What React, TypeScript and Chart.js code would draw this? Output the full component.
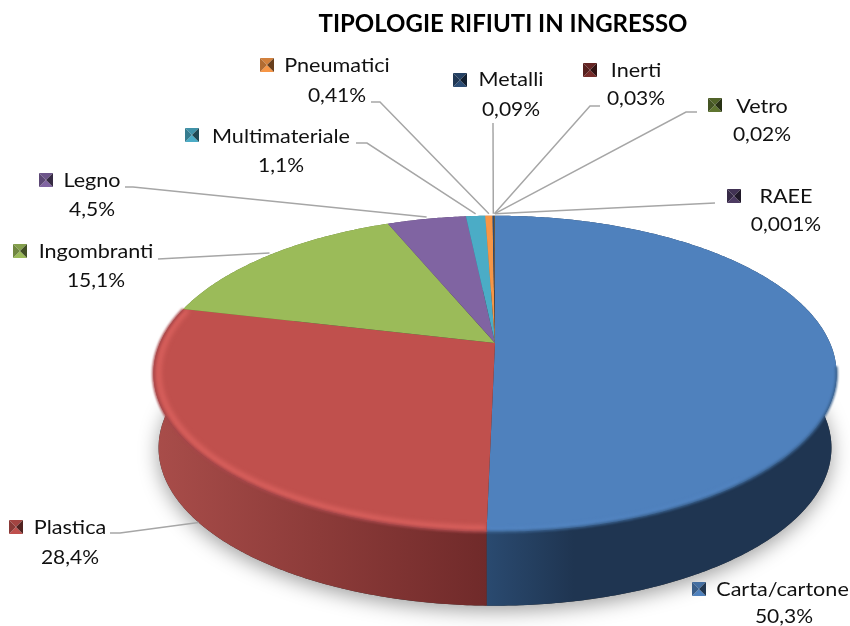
import React, { useEffect, useRef } from "react";
import { Chart, registerables } from "chart.js";

Chart.register(...registerables);

const categories = ["Carta/cartone", "Plastica", "Ingombranti", "Legno", "Multimateriale", "Pneumatici", "Metalli", "Inerti", "Vetro", "RAEE"];
const values = [50.3, 28.4, 15.1, 4.5, 1.1, 0.41, 0.09, 0.03, 0.02, 0.001];
const valueLabels = ["50,3%", "28,4%", "15,1%", "4,5%", "1,1%", "0,41%", "0,09%", "0,03%", "0,02%", "0,001%"];
const colors = ["#4f81bd", "#c0504d", "#9bbb59", "#8064a2", "#4bacc6", "#f79646", "#2c4d75", "#772c2a", "#5f7530", "#4d3b62"];
const title = "TIPOLOGIE RIFIUTI IN INGRESSO";

// label layout: [name centre x, name baseline, value centre x, value baseline, swatch x, swatch y]
const labelLayout = [
  [782.5, 596, 784, 623, 692, 582],
  [70, 534, 70, 564, 9, 520],
  [96, 258, 96, 287, 13, 244],
  [92, 187, 92, 216, 39, 173],
  [281, 143, 281, 172, 185, 128],
  [337, 72, 337, 102, 260, 58],
  [511, 86, 511, 116, 453, 73],
  [636, 77, 636, 105, 583, 63],
  [762, 113, 762, 141, 708, 98],
  [786, 203, 786, 231, 727, 189],
];
// leader start polylines (from the label to the slice)
const leaderStarts: number[][][] = [
  [],
  [[110, 533], [120, 533]],
  [[158, 259]],
  [[125, 187], [133, 187]],
  [[356, 143], [367, 143]],
  [[371, 102], [380, 102]],
  [[493, 123]],
  [[600, 106], [590, 106]],
  [[697, 112], [686, 112]],
  [[715, 203]],
];
const sideStops: [number, string][][] = [
  [[0, "#2a4a70"], [0.25, "#1f3551"], [1, "#1f3551"]],
  [[0, "#a94d4a"], [0.5, "#8c3b39"], [1, "#702a2a"]],
  [[0, "#5f7530"], [1, "#5f7530"]],
  [[0, "#4d3b62"], [1, "#4d3b62"]],
  [[0, "#2c7a8c"], [1, "#2c7a8c"]],
  [[0, "#b66d2f"], [1, "#b66d2f"]],
  [[0, "#1b304a"], [1, "#1b304a"]],
  [[0, "#4b1c1b"], [1, "#4b1c1b"]],
  [[0, "#3c4a1e"], [1, "#3c4a1e"]],
  [[0, "#30253e"], [1, "#30253e"]],
];
const rimColors = ["#5d90cf", "#ea6b68", "", "", "", "", "", "", "", ""];
const seamColors = ["#39618f", "#a8474a", "", "", "", "", "", "", "", ""];

const PERSPECTIVE = 0.195;
const TILT = 0.4537;
const DEPTH = 74;
const OFFSET_X = -8;
const BOTTOM_SCALE = 0.985;
const FONT = "Lato";
const NAME_STRETCH = 1.08;
const VALUE_STRETCH = 1.05;

function shade(hex: string, f: number) {
  const n = parseInt(hex.slice(1), 16);
  const c = [(n >> 16) & 255, (n >> 8) & 255, n & 255].map((v) => Math.min(255, Math.round(v * f)));
  return `rgb(${c[0]},${c[1]},${c[2]})`;
}

const pie3dPlugin = {
  id: "pie3d",
  beforeDatasetDraw(chart: any) {
    const ctx: CanvasRenderingContext2D = chart.ctx;
    const arcs = chart.getDatasetMeta(0).data;
    const cx = arcs[0].x + OFFSET_X;
    const cy = arcs[0].y;
    const R = arcs[0].outerRadius;

    const project = (a: number, bottom = false, inset = 1) => {
      const u = Math.cos(a) * inset;
      const v = Math.sin(a) * inset;
      const d = 1 - PERSPECTIVE * v;
      const sx = bottom ? BOTTOM_SCALE : 1;
      return [cx + (R * u * sx) / d, cy + (R * TILT * v) / d + (bottom ? DEPTH : 0)];
    };
    const sample = (a1: number, a2: number, bottom = false, inset = 1) => {
      const n = Math.max(2, Math.ceil(Math.abs(a2 - a1) / 0.01));
      const pts: number[][] = [];
      for (let i = 0; i <= n; i++) pts.push(project(a1 + ((a2 - a1) * i) / n, bottom, inset));
      return pts;
    };
    const trace = (pts: number[][]) => {
      pts.forEach((p, i) => (i ? ctx.lineTo(p[0], p[1]) : ctx.moveTo(p[0], p[1])));
    };
    const stretchedText = (text: string, x: number, y: number, k: number) => {
      ctx.save();
      ctx.translate(x, y);
      ctx.scale(k, 1);
      ctx.fillText(text, 0, 0);
      ctx.restore();
    };

    ctx.save();
    // soft ground shadow
    ctx.save();
    ctx.shadowColor = "rgba(0,0,0,0.38)";
    ctx.shadowBlur = 20;
    ctx.shadowOffsetY = 5;
    ctx.fillStyle = "#333";
    ctx.beginPath();
    trace(sample(0, Math.PI * 2, true));
    ctx.closePath();
    ctx.fill();
    ctx.restore();

    // side walls
    arcs.forEach((arc: any, i: number) => {
      const top = sample(arc.startAngle, arc.endAngle);
      const bot = sample(arc.endAngle, arc.startAngle, true);
      const xs = top.concat(bot).map((p) => p[0]);
      const g = ctx.createLinearGradient(Math.min(...xs), 0, Math.max(...xs), 0);
      sideStops[i].forEach(([o, c]) => g.addColorStop(o, c));
      ctx.fillStyle = g;
      ctx.beginPath();
      trace(top.concat(bot));
      ctx.closePath();
      ctx.fill();
    });

    // top faces, with a soft bevel along the front rim
    arcs.forEach((arc: any, i: number) => {
      const rim = sample(arc.startAngle, arc.endAngle);
      ctx.fillStyle = colors[i];
      ctx.beginPath();
      ctx.moveTo(cx, cy);
      rim.forEach((p) => ctx.lineTo(p[0], p[1]));
      ctx.closePath();
      ctx.fill();
      if (rimColors[i]) {
        const a1 = Math.max(arc.startAngle, i === 0 ? 0.9 : 0);
        const a2 = Math.min(arc.endAngle, Math.PI * 1.1);
        ctx.save();
        ctx.clip();
        ctx.filter = "blur(2.5px)";
        ctx.globalAlpha = 0.8;
        ctx.strokeStyle = rimColors[i];
        ctx.lineWidth = i === 0 ? 3 : 4;
        ctx.beginPath();
        trace(sample(a1, a2, false, i === 0 ? 0.998 : 0.985));
        ctx.stroke();
        ctx.restore();

        // blurred seam between the face and the wall
        const s1 = Math.max(arc.startAngle, 0.15);
        ctx.save();
        ctx.filter = "blur(1.2px)";
        ctx.strokeStyle = seamColors[i];
        ctx.lineWidth = 2.5;
        ctx.beginPath();
        trace(sample(s1, a2));
        ctx.stroke();
        ctx.restore();
      }
    });

    // leader lines and labels
    arcs.forEach((arc: any, i: number) => {
      const starts = leaderStarts[i];
      if (starts.length) {
        const mid = (arc.startAngle + arc.endAngle) / 2;
        const inFront = Math.sin(mid) > 0;
        const end = project(mid, inFront);
        ctx.strokeStyle = "#a6a6a6";
        ctx.lineWidth = 1.5;
        ctx.beginPath();
        trace(starts.concat([[end[0], end[1] - (inFront ? 0 : 2)]]));
        ctx.stroke();
      }
      const [nx, ny, vx, vy, sx, sy] = labelLayout[i];
      ctx.fillStyle = "#111";
      ctx.font = `20px ${FONT}`;
      ctx.textAlign = "center";
      ctx.textBaseline = "alphabetic";
      stretchedText(categories[i], nx, ny, NAME_STRETCH);
      stretchedText(valueLabels[i], vx, vy, VALUE_STRETCH);

      // bevelled legend key
      const s = 14;
      const mx = sx + s / 2;
      const my = sy + s / 2;
      const facets: [number[][], number][] = [
        [[[sx, sy], [sx + s, sy], [mx, my]], 0.85],
        [[[sx, sy + s], [sx + s, sy + s], [mx, my]], 1.0],
        [[[sx, sy], [sx, sy + s], [mx, my]], 0.72],
        [[[sx + s, sy], [sx + s, sy + s], [mx, my]], 0.42],
      ];
      facets.forEach(([tri, f]) => {
        ctx.fillStyle = shade(colors[i], f);
        ctx.beginPath();
        trace(tri);
        ctx.closePath();
        ctx.fill();
      });
    });
    ctx.restore();
    return false;
  },
};

export default function App() {
  const ref = useRef<HTMLCanvasElement>(null);
  useEffect(() => {
    document.body.style.margin = "0";
    const chart = new Chart(ref.current!, {
      type: "pie",
      data: {
        labels: categories,
        datasets: [{ data: values, backgroundColor: colors, radius: 335, borderWidth: 0 }],
      },
      options: {
        responsive: false,
        animation: false,
        layout: { padding: { left: 156, right: 0, top: 0, bottom: 0 } },
        plugins: {
          legend: { display: false },
          tooltip: { enabled: false },
          title: {
            display: true,
            text: title,
            color: "#000",
            font: { family: FONT, size: 24, weight: "bold" },
            padding: { top: 10, bottom: 21 },
          },
        },
      },
      plugins: [pie3dPlugin],
    } as any);
    return () => chart.destroy();
  }, []);
  return <canvas ref={ref} width={850} height={626} style={{ display: "block" }} />;
}
